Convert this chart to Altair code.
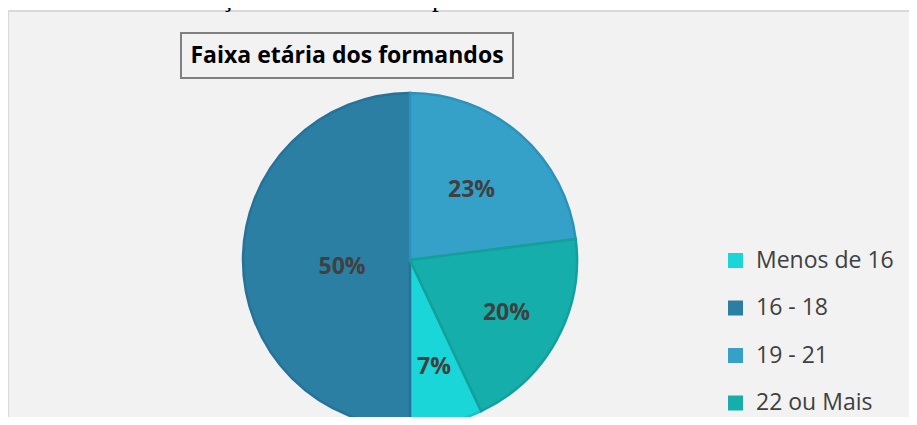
import altair as alt
import pandas as pd

# ---- data ----
categories = ["Menos de 16", "16 - 18", "19 - 21", "22 ou Mais"]
shares = [7, 50, 23, 20]
labels = ["7%", "50%", "23%", "20%"]
slice_order = [3, 4, 1, 2]  # clockwise order starting at 12 o'clock
fills = ["#1ad6d8", "#2b7fa2", "#35a1c9", "#15aeab"]
strokes = ["#16c4c6", "#26729a", "#2d92b9", "#12a09b"]

caption = "Gráfico 2 - Distribuição dos formandos por faixa etária"
chart_title = "Faixa etária dos formandos"

df = pd.DataFrame({"cat": categories, "share": shares, "label": labels, "pos": slice_order})
one = pd.DataFrame({"a": [0]})

FONT = "Open Sans"
CX, CY, R = 402, 252, 167

bg = alt.Chart(one).mark_rect(fill="#f2f2f2", stroke="#d9d9d9", strokeWidth=2).encode(
    x=alt.value(0), x2=alt.value(940), y=alt.value(3), y2=alt.value(450)
)

cap = alt.Chart(one).mark_text(
    text=caption, font="Liberation Serif", fontSize=27, color="#000000",
    align="left", baseline="alphabetic"
).encode(x=alt.value(-8), y=alt.value(-2))

tbox = alt.Chart(one).mark_rect(fill="#f2f2f2", stroke="#808080", strokeWidth=2).encode(
    x=alt.value(173), x2=alt.value(505), y=alt.value(25), y2=alt.value(70)
)
ttext = alt.Chart(one).mark_text(
    text=chart_title, font=FONT, fontSize=23, fontWeight="bold", color="#000000",
    align="center", baseline="middle"
).encode(x=alt.value(339), y=alt.value(48))

base = alt.Chart(df)
theta = alt.Theta("share:Q", stack=True)
order = alt.Order("pos:Q")

pie = base.mark_arc(radius=R, strokeWidth=2.5).encode(
    theta=theta,
    order=order,
    color=alt.Color(
        "cat:N",
        scale=alt.Scale(domain=categories, range=fills),
        legend=alt.Legend(
            orient="none", legendX=716, legendY=241, title=None,
            symbolType="square", symbolSize=225, symbolStrokeWidth=0,
            labelFont=FONT, labelFontSize=23, labelColor="#404040",
            rowPadding=23.5, labelOffset=9, direction="vertical",
        ),
    ),
    stroke=alt.Stroke("cat:N", scale=alt.Scale(domain=categories, range=strokes), legend=None),
    x=alt.value(CX),
    y=alt.value(CY),
)


def label_layer(cats, radius, dy=0):
    return base.mark_text(
        radius=radius, dy=dy, font=FONT, fontSize=23, fontWeight="bold",
        color="#404040", align="center", baseline="middle"
    ).encode(
        theta=theta,
        order=order,
        text=alt.condition(alt.FieldOneOfPredicate(field="cat", oneOf=cats),
                           alt.Text("label:N"), alt.value("")),
        x=alt.value(CX),
        y=alt.value(CY),
    )


lab_a = label_layer(["19 - 21"], 93)
lab_b = label_layer(["22 ou Mais", "Menos de 16"], 110)
lab_c = label_layer(["16 - 18"], 68, dy=7)

chart = alt.layer(bg, cap, tbox, ttext, pie, lab_a, lab_b, lab_c).properties(
    width=901, height=409, autosize="none", padding=0, background="#ffffff"
).configure_view(stroke=None)

chart.save("out.html", embed_options={"renderer": "svg", "actions": False})
